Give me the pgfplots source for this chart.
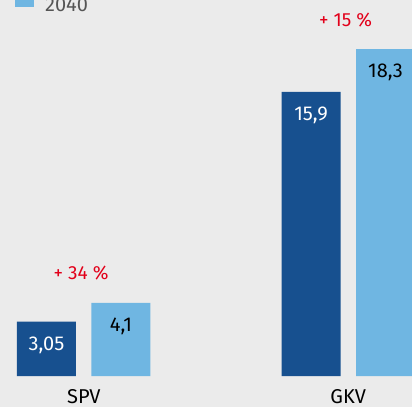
\documentclass[border=0pt]{standalone}
\usepackage{pgfplots}
\pgfplotsset{compat=1.18}
\usepackage{fontspec}
\setmainfont{Fira Sans}
\definecolor{bg}{HTML}{EBEBEB}
\definecolor{dblue}{HTML}{17508F}
\definecolor{lblue}{HTML}{6FB6E2}
\definecolor{pred}{HTML}{E2001A}
\definecolor{lgray}{HTML}{555555}
\begin{document}
\begin{tikzpicture}
\useasboundingbox (0,0) rectangle (412pt,407pt);
\clip (0,0) rectangle (412pt,407pt);
\fill[bg] (0,0) rectangle (412pt,407pt);
\begin{axis}[
  at={(0pt,31pt)}, anchor=south west,
  scale only axis, width=412pt, height=376pt,
  xmin=-0.3166, xmax=1.2410, ymin=0, ymax=21.05,
  ybar=15.5pt, bar width=59pt,
  axis line style={draw=none},
  major tick length=0pt,
  ytick=\empty,
  xtick={0,1}, xticklabels={SPV,GKV},
  xticklabel style={inner sep=0pt, yshift=-13.5pt, font=\fontsize{20}{24}\selectfont, text=black},
  clip=false,
  point meta=explicit symbolic,
  nodes near coords={\pgfplotspointmeta},
  every node near coord/.append style={anchor=north, inner sep=0pt, yshift=-15pt, font=\fontsize{20}{24}\selectfont},
  legend image code/.code={\fill[#1,draw=none] (0pt,-2pt) rectangle (19pt,18pt);},
  legend style={at={(rel axis cs:0.0291,0.960)}, anchor=south west, draw=none, fill=none,
    nodes={inner sep=0pt}, column sep=0pt, row sep=6pt,
    font=\fontsize{20}{24}\selectfont, text=lgray},
  legend cell align=left,
]
\addplot[fill=dblue, draw=none, every node near coord/.append style={text=white}]
  coordinates {(0,3.05) [3,05] (1,15.9) [15,9]};
\addlegendentry{\hspace{11pt}2020}
\addplot[fill=lblue, draw=none, every node near coord/.append style={text=black}]
  coordinates {(0,4.1) [4,1] (1,18.3) [18,3]};
\addlegendentry{\hspace{11pt}2040}
\node[text=pred, font=\fontsize{19}{22}\selectfont] at (axis cs:-0.01,5.77) {+ 34 \%};
\node[text=pred, font=\fontsize{19}{22}\selectfont] at (axis cs:0.99,19.93) {+ 15 \%};
\end{axis}
\end{tikzpicture}
\end{document}
